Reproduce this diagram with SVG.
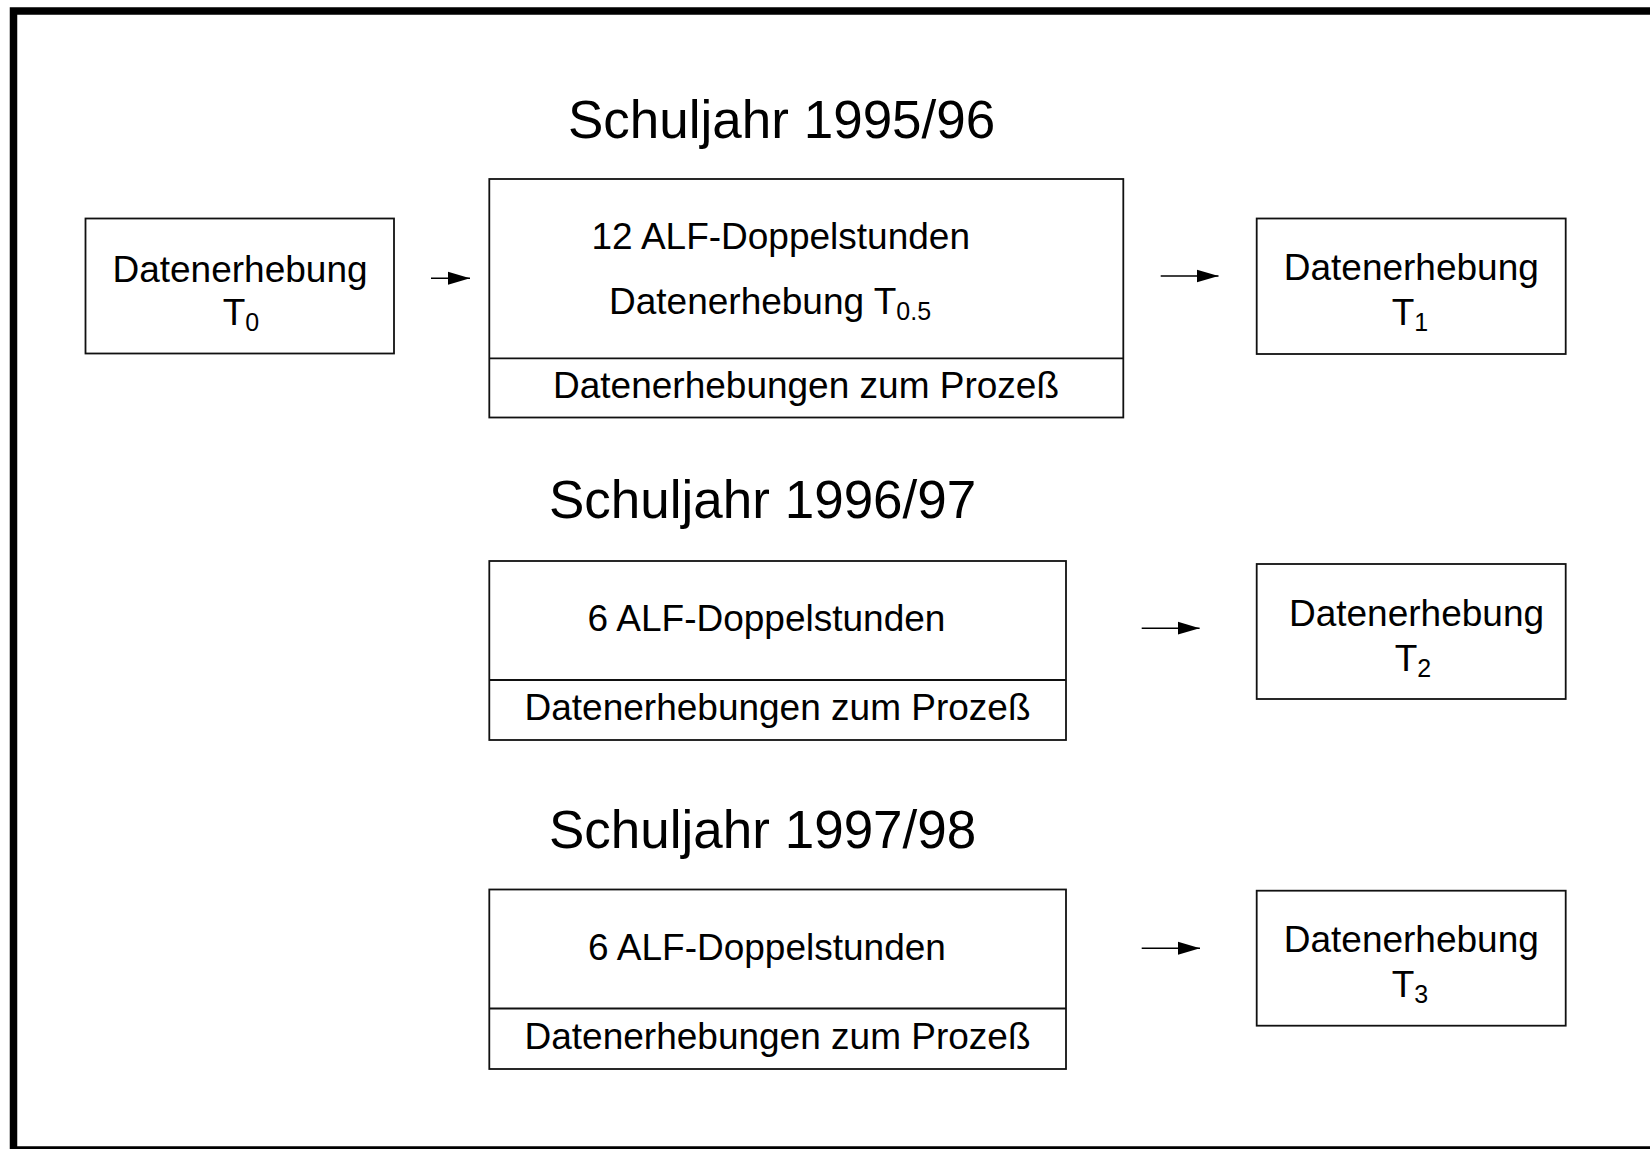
<svg xmlns="http://www.w3.org/2000/svg" width="1650" height="1149" viewBox="0 0 1650 1149">
  <style>
    .frame { fill: none; stroke: #000; stroke-width: 7.5; }
    .box { fill: #fff; stroke: #111; stroke-width: 1.8; }
    .div { stroke: #111; stroke-width: 1.8; }
    .t { font-family: "Liberation Sans", Arial, Helvetica, sans-serif; font-size: 37px; fill: #000; }
    .title { font-family: "Liberation Sans", Arial, Helvetica, sans-serif; font-size: 53px; fill: #000; }
    .sub { font-size: 25px; }
    .mid { text-anchor: middle; }
    .conn { stroke: #000; stroke-width: 1.6; fill: none; marker-end: url(#arrow); }
  </style>
  <defs>
    <marker id="arrow" markerUnits="userSpaceOnUse" markerWidth="22" markerHeight="14" refX="22" refY="7" orient="auto">
      <path d="M0,0.5 L22,7 L0,13.5 Z" fill="#000"/>
    </marker>
  </defs>

  <rect class="frame" x="13.5" y="11" width="1660" height="1139"/>

  <g id="title-1995">
    <text class="title" x="568" y="138">Schuljahr 1995/96</text>
  </g>
  <g id="title-1996">
    <text class="title" x="549" y="518">Schuljahr 1996/97</text>
  </g>
  <g id="title-1997">
    <text class="title" x="549" y="848">Schuljahr 1997/98</text>
  </g>

  <g id="node-t0">
    <rect class="box" x="85.5" y="218.5" width="308.5" height="135"/>
    <text class="t mid" x="240" y="281.5">Datenerhebung</text>
    <text class="t mid" x="241" y="325">T<tspan class="sub" dy="6">0</tspan></text>
  </g>

  <g id="node-year1">
    <rect class="box" x="489.3" y="179" width="634" height="238.5"/>
    <line class="div" x1="489.3" y1="358.3" x2="1123.3" y2="358.3"/>
    <text class="t" x="591.5" y="249">12 ALF-Doppelstunden</text>
    <text class="t" x="609" y="314">Datenerhebung T<tspan class="sub" dy="6">0.5</tspan></text>
    <text class="t mid" x="806" y="397.5">Datenerhebungen zum Prozeß</text>
  </g>

  <g id="node-t1">
    <rect class="box" x="1256.7" y="218.5" width="309" height="135.5"/>
    <text class="t mid" x="1411.3" y="280">Datenerhebung</text>
    <text class="t mid" x="1410" y="325">T<tspan class="sub" dy="6">1</tspan></text>
  </g>

  <g id="node-year2">
    <rect class="box" x="489.3" y="561" width="576.7" height="179"/>
    <line class="div" x1="489.3" y1="680" x2="1066" y2="680"/>
    <text class="t" x="587.5" y="631">6 ALF-Doppelstunden</text>
    <text class="t mid" x="777.5" y="719.5">Datenerhebungen zum Prozeß</text>
  </g>

  <g id="node-t2">
    <rect class="box" x="1256.7" y="564" width="309" height="135"/>
    <text class="t mid" x="1416.5" y="625.5">Datenerhebung</text>
    <text class="t mid" x="1413" y="670.5">T<tspan class="sub" dy="6">2</tspan></text>
  </g>

  <g id="node-year3">
    <rect class="box" x="489.3" y="889.5" width="576.7" height="179.5"/>
    <line class="div" x1="489.3" y1="1008.5" x2="1066" y2="1008.5"/>
    <text class="t" x="588" y="959.5">6 ALF-Doppelstunden</text>
    <text class="t mid" x="777.5" y="1049">Datenerhebungen zum Prozeß</text>
  </g>

  <g id="node-t3">
    <rect class="box" x="1256.7" y="890.7" width="309" height="135"/>
    <text class="t mid" x="1411.3" y="951.7">Datenerhebung</text>
    <text class="t mid" x="1410" y="996.7">T<tspan class="sub" dy="6">3</tspan></text>
  </g>

  <g id="connectors">
    <line class="conn" x1="431" y1="278.3" x2="470" y2="278.3"/>
    <line class="conn" x1="1160.7" y1="276" x2="1218.5" y2="276"/>
    <line class="conn" x1="1141.7" y1="628.2" x2="1199.6" y2="628.2"/>
    <line class="conn" x1="1141.7" y1="948.3" x2="1200" y2="948.3"/>
  </g>
</svg>
